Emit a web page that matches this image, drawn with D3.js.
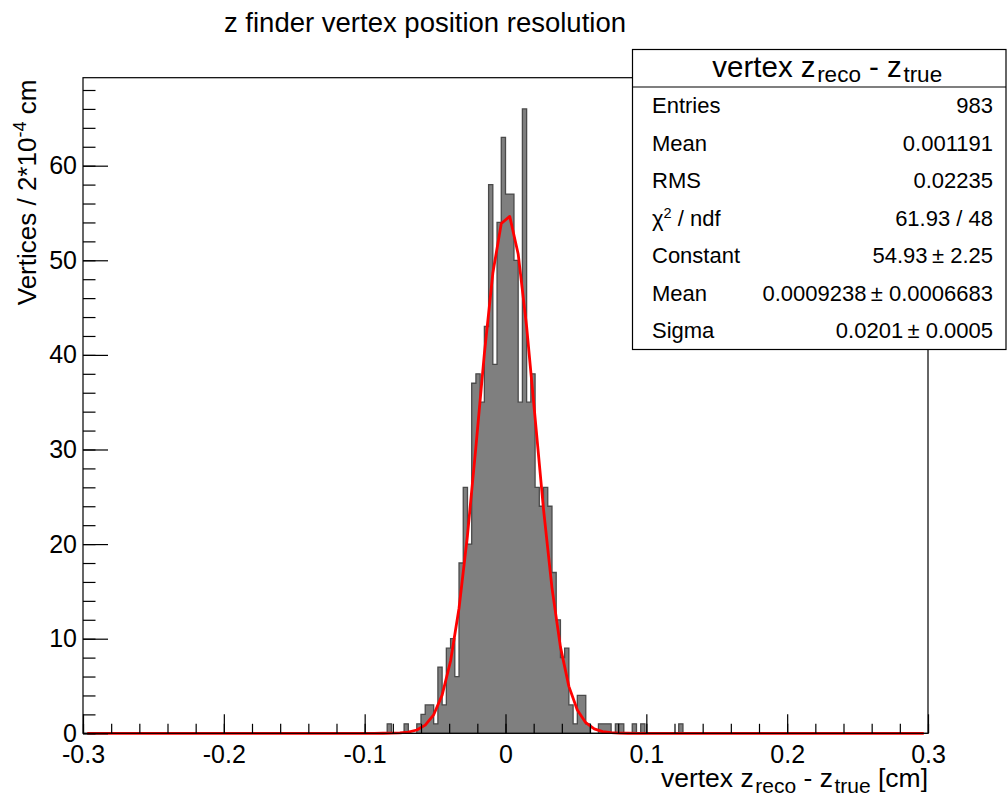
<!DOCTYPE html>
<html><head><meta charset="utf-8">
<script src="https://cdn.jsdelivr.net/npm/d3@7"></script>
<style>
body{margin:0;background:#fff}
svg{display:block}
text{font-family:"Liberation Sans",Arial,Helvetica,sans-serif;fill:#000}
</style>
</head><body>
<svg id="c" width="1008" height="798"></svg>
<script>
// ---- data ----
const titleText = "z finder vertex position resolution";
const xMin = -0.3, xMax = 0.3, nBins = 200;
const firstBinLow = -0.084;          // low edge of first listed bin
const counts = [1,0,0,0,1,0,0,1,2,3,3,1,7,3,9,10,6,18,26,20,
  37,38,35,43,58,39,54,63,57,57,50,35,66,35,38,26,24,26,24,17,
  12,8,9,3,1,4,4,1,0,0,1,1,1,0,1,1,0,0,1,0,1,0,0,0,0,0,0,0,0,1];
const xTicks = [-0.3,-0.2,-0.1,0,0.1,0.2,0.3];
const xTickLabels = ["-0.3","-0.2","-0.1","0","0.1","0.2","0.3"];
const yTicks = [0,10,20,30,40,50,60];
const yTickLabels = ["0","10","20","30","40","50","60"];
const fitConst = 54.93, fitMean = 0.0009238, fitSigma = 0.0201, fitNpx = 100;
const statLabels = ["Entries","Mean","RMS","CHI","Constant","Mean","Sigma"];
const statValues = ["983","0.001191","0.02235","61.93 / 48","54.93\u2009\u00b1 2.25","0.0009238\u2009\u00b1 0.0006683","0.0201\u2009\u00b1 0.0005"];

// ---- layout ----
const L = 83, R = 928, T = 77.7, B = 733.3;
const bw = (xMax - xMin) / nBins;
const firstIdx = Math.round((firstBinLow - xMin) / bw);
const binVals = d3.range(nBins).map(i => {
  const j = i - firstIdx;
  return (j >= 0 && j < counts.length) ? counts[j] : 0;
});
const yMax = d3.max(binVals) * 1.05;

const svg = d3.select("#c");
const x = d3.scaleLinear().domain([xMin, xMax]).range([L, R]);
const y = d3.scaleLinear().domain([0, yMax]).range([B, T]);

// histogram (step outline + fill)
const pts = [[xMin, 0]];
binVals.forEach((c, i) => {
  const lo = xMin + i * bw, hi = xMin + (i + 1) * bw;
  pts.push([lo, c], [hi, c]);
});
pts.push([xMax, 0]);
const line = d3.line().x(d => x(d[0])).y(d => y(d[1]));
svg.append("path").attr("d", line(pts) + "Z")
  .attr("fill", "#7f7f7f").attr("stroke", "#4a4a4a").attr("stroke-width", 1.3)
  .attr("stroke-linejoin", "miter");

// fit curve
const fx = d3.range(fitNpx + 1).map(i => xMin + (i + 0.5) * (xMax - xMin) / fitNpx).filter(v => v <= xMax);
const fitPts = fx.map(v => [v, fitConst * Math.exp(-0.5 * Math.pow((v - fitMean) / fitSigma, 2))]);
svg.append("path").attr("d", line(fitPts))
  .attr("fill", "none").attr("stroke", "#ff0000").attr("stroke-width", 2.8).attr("stroke-linejoin", "round");

// frame
svg.append("rect").attr("x", L).attr("y", T).attr("width", R - L).attr("height", B - T)
  .attr("fill", "none").attr("stroke", "#000").attr("stroke-width", 1.2);

// x axis
const xMinor = d3.range(0, 31).map(i => xMin + i * 0.02);
const gx = svg.append("g").attr("transform", `translate(0,${B})`);
gx.call(d3.axisBottom(x).tickValues(xMinor).tickSizeInner(-9.5).tickSizeOuter(0).tickFormat(""));
gx.call(g => g.select(".domain").remove());
const gx2 = svg.append("g").attr("transform", `translate(0,${B})`);
gx2.call(d3.axisBottom(x).tickValues(xTicks).tickSizeInner(-19).tickSizeOuter(0)
  .tickPadding(9).tickFormat((d, i) => xTickLabels[i]));
gx2.call(g => g.select(".domain").remove());
gx2.selectAll("text").attr("font-size", 25).attr("font-family", "Liberation Sans, Arial, sans-serif").attr("dy", "0.71em").attr("y", 12);
svg.selectAll("g line").attr("stroke", "#000").attr("stroke-width", 1.2);

// y axis
const yMinor = d3.range(0, 35).map(i => i * 2).filter(v => v <= yMax);
const gy = svg.append("g").attr("transform", `translate(${L},0)`);
gy.call(d3.axisLeft(y).tickValues(yMinor).tickSizeInner(-12.5).tickSizeOuter(0).tickFormat(""));
gy.call(g => g.select(".domain").remove());
const gy2 = svg.append("g").attr("transform", `translate(${L},0)`);
gy2.call(d3.axisLeft(y).tickValues(yTicks).tickSizeInner(-25).tickSizeOuter(0)
  .tickPadding(6).tickFormat((d, i) => yTickLabels[i]));
gy2.call(g => g.select(".domain").remove());
gy2.selectAll("text").attr("font-size", 25).attr("font-family", "Liberation Sans, Arial, sans-serif").attr("x", -6);
svg.selectAll("g line").attr("stroke", "#000").attr("stroke-width", 1.2);

// title
svg.append("text").attr("x", 425).attr("y", 32).attr("text-anchor", "middle")
  .attr("font-size", 27.5).text(titleText);

// x axis title
const xt = svg.append("text").attr("x", R).attr("y", 787).attr("text-anchor", "end").attr("font-size", 26.5);
xt.append("tspan").text("vertex z");
xt.append("tspan").attr("font-size", 21).attr("dx", 1.5).attr("dy", 6).text("reco");
xt.append("tspan").attr("dy", -6).text(" - z");
xt.append("tspan").attr("font-size", 21).attr("dx", 1.5).attr("dy", 6).text("true");
xt.append("tspan").attr("dy", -6).text(" [cm]");

// y axis title
const yt = svg.append("text").attr("transform", `translate(36,${T + 2}) rotate(-90)`)
  .attr("text-anchor", "end").attr("font-size", 26);
yt.append("tspan").text("Vertices / 2*10");
yt.append("tspan").attr("font-size", 18).attr("dy", -10).text("-4");
yt.append("tspan").attr("dy", 10).text(" cm");

// stats box
const sbL = 632.5, sbR = 1006, sbT = 49.5, sbH = 37.5, headB = 87;
const sbB = headB + sbH * statLabels.length;
svg.append("rect").attr("x", sbL).attr("y", sbT).attr("width", sbR - sbL).attr("height", sbB - sbT)
  .attr("fill", "#fff").attr("stroke", "#000").attr("stroke-width", 1.2);
svg.append("line").attr("x1", sbL).attr("x2", sbR).attr("y1", headB).attr("y2", headB)
  .attr("stroke", "#000").attr("stroke-width", 1.2);
const ht = svg.append("text").attr("x", (sbL + sbR) / 2 + 8).attr("y", 77).attr("text-anchor", "middle").attr("font-size", 29.5);
ht.append("tspan").text("vertex z");
ht.append("tspan").attr("font-size", 22.5).attr("dx", 1.5).attr("dy", 5).text("reco");
ht.append("tspan").attr("dy", -5).text(" - z");
ht.append("tspan").attr("font-size", 22.5).attr("dx", 1.5).attr("dy", 5).text("true");

statLabels.forEach((lab, i) => {
  const cy = headB + sbH * (i + 0.5) + 7.7;
  const t = svg.append("text").attr("x", 652).attr("y", cy).attr("font-size", 22);
  if (lab === "CHI") {
    t.append("tspan").text("\u03c7");
    t.append("tspan").attr("font-size", 14.5).attr("dy", -8).text("2");
    t.append("tspan").attr("dy", 8).text(" / ndf");
  } else {
    t.text(lab);
  }
  svg.append("text").attr("x", 993).attr("y", cy).attr("text-anchor", "end").attr("font-size", 22).text(statValues[i]);
});
</script>
</body></html>
